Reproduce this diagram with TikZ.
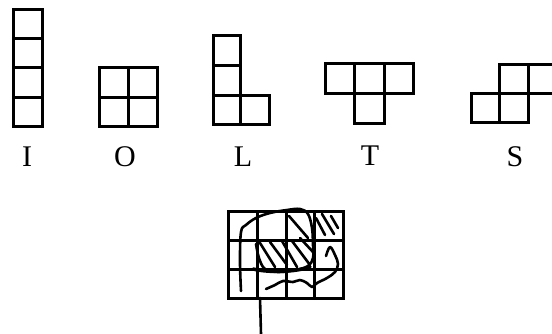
\documentclass[tikz,border=0pt]{standalone}
\usepackage{fontspec}
\setmainfont{Liberation Serif}
\begin{document}
\begin{tikzpicture}[x=1pt,y=-1pt,
  piece/.style={line width=3pt,line join=miter},
  sketch/.style={line width=2.6pt,line cap=round,line join=round},
  hatch/.style={line width=2.6pt,line cap=round},
  lab/.style={font=\fontsize{30}{30}\selectfont,anchor=base,inner sep=0pt}]
\useasboundingbox (0,0) rectangle (552,334);
\clip (0,0) rectangle (552,334);
% I
\draw[piece] (13,10) rectangle (42,127);
\draw[piece] (13,39) -- (42,39) (13,68) -- (42,68) (13,98) -- (42,98);
\node[lab] (lI) at (27,167) {I};
% O
\draw[piece] (99,68) rectangle (157,127);
\draw[piece] (128,68) -- (128,127) (99,97.5) -- (157,97.5);
\node[lab] (lO) at (125,167) {O};
% L
\draw[piece] (213,36) -- (240,36) -- (240,96) -- (269,96) -- (269,125) -- (213,125) -- cycle;
\draw[piece] (213,66) -- (240,66) (213,96) -- (240,96) (240,96) -- (240,125);
\node[lab] (lL) at (243,167) {L};
% T
\draw[piece] (325,64) -- (413,64) -- (413,94) -- (384,94) -- (384,124) -- (354,124) -- (354,94) -- (325,94) -- cycle;
\draw[piece] (354,64) -- (354,94) -- (384,94) -- (384,64);
\node[lab] (lT) at (370,166) {T};
% S
\draw[piece] (560,65) -- (499,65) -- (499,94) -- (471,94) -- (471,123) -- (528,123) -- (528,94) -- (560,94);
\draw[piece] (499,94) -- (528,94) (499,94) -- (499,123) (528,65) -- (528,94);
\node[lab] (lS) at (515,167) {S};
% board
\draw[piece] (228,212) rectangle (343,298);
\draw[piece] (257,212) -- (257,298) (286,212) -- (286,298) (314,212) -- (314,298)
  (228,240) -- (343,240) (228,269) -- (343,269);
% hatching
\draw[hatch] (289,216) -- (308,238)
  (316,218) -- (325,235) (322,214) -- (334,234) (331,216) -- (338,228)
  (260,243) -- (275,267) (270,242) -- (287,265) (282,241) -- (297,267)
  (292,241) -- (310,265) (300,238) -- (313,252);
% sketch lines
\draw[sketch] plot[smooth,tension=0.6] coordinates {(241,291) (240,262) (241,232) (246,225) (256,218) (270,213) (287,210) (300,209) (308,214) (312,228) (313,245) (313,258) (308,266) (295,270) (278,272) (265,269) (259,258) (256,244)};
\draw[line width=3.5pt,line cap=round] (253,269) .. controls (270,273) and (295,272) .. (310,267);
\draw[sketch] plot[smooth,tension=0.6] coordinates {(266,289) (275,285) (283,281) (293,282) (300,280) (307,283) (312,287) (317,283) (327,278) (335,272) (338,264) (335,255) (330,247) (326,256)};
\draw[sketch] (260,298) -- (261,334);
\end{tikzpicture}
\end{document}
